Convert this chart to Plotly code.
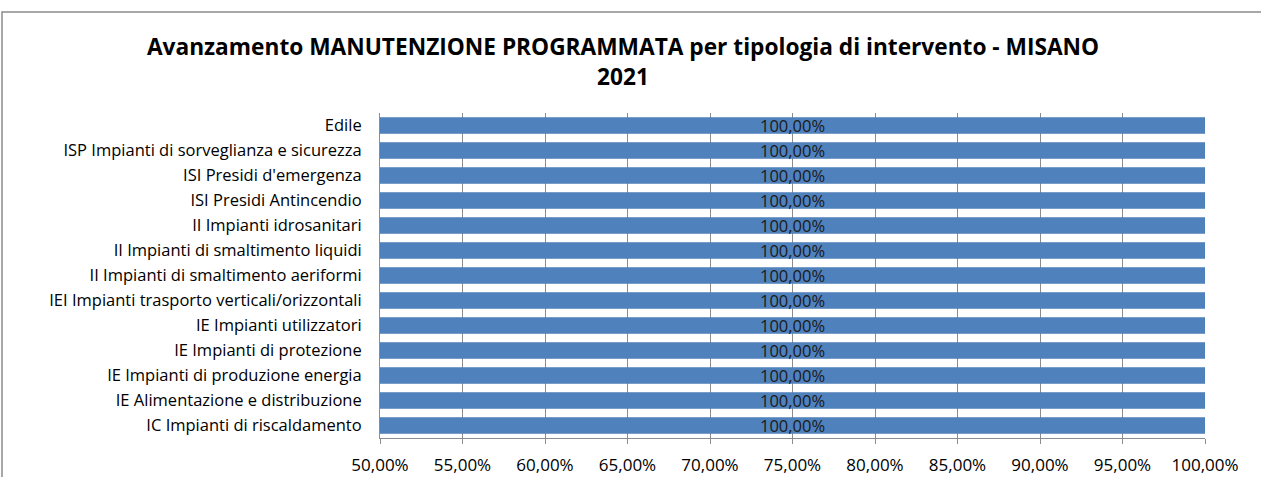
import plotly.graph_objects as go

categories = [
    "Edile",
    "ISP Impianti di sorveglianza e sicurezza",
    "ISI Presidi d'emergenza",
    "ISI Presidi Antincendio",
    "II Impianti idrosanitari",
    "II Impianti di smaltimento liquidi",
    "II Impianti di smaltimento aeriformi",
    "IEI Impianti trasporto verticali/orizzontali",
    "IE Impianti utilizzatori",
    "IE Impianti di protezione",
    "IE Impianti di produzione energia",
    "IE Alimentazione e distribuzione",
    "IC Impianti di riscaldamento",
]
values = [1.0] * 13
axis_min = 0.5
tick_vals = [0.5, 0.55, 0.6, 0.65, 0.7, 0.75, 0.8, 0.85, 0.9, 0.95, 1.0]
tick_text = [f"{v*100:.2f}%".replace(".", ",") for v in tick_vals]
bar_text = [f"{v*100:.2f}%".replace(".", ",") for v in values]

FONT = "Open Sans"
W, H = 1261, 477
L, R, T, B = 380, 56, 113, 39

fig = go.Figure()
fig.add_trace(go.Bar(
    y=categories,
    x=[v - axis_min for v in values],
    base=axis_min,
    orientation="h",
    marker=dict(color="#4F81BD", line=dict(color="#4A7AB3", width=0.5)),
    width=0.64,
    text=bar_text,
    textposition="inside",
    insidetextanchor="middle",
    constraintext="none",
    textfont=dict(family=FONT, size=16.5, color="#1a1a1a"),
    hovertemplate="%{y}: %{text}<extra></extra>",
))

pw = W - L - R
ph = H - T - B
fig.add_shape(type="rect", xref="paper", yref="paper",
              x0=(2 - L) / pw, x1=(W + 10 - L) / pw,
              y0=-(B + 10) / ph, y1=(H - B - 12) / ph,
              line=dict(color="#8C8C8C", width=1.5), layer="below")

fig.update_layout(
    width=W, height=H,
    margin=dict(l=L, r=R, t=T, b=B, autoexpand=False),
    paper_bgcolor="white", plot_bgcolor="white",
    showlegend=False,
    title=dict(
        text="<b>Avanzamento MANUTENZIONE PROGRAMMATA per tipologia di intervento - MISANO<br>2021</b>",
        x=623 / W, xanchor="center", y=1 - 55 / H, yanchor="top",
        font=dict(family=FONT, size=22.7, color="#000000"),
    ),
    font=dict(family=FONT, size=16.5, color="#000000"),
    xaxis=dict(
        range=[axis_min, 1.0], tickvals=tick_vals, ticktext=tick_text,
        showgrid=True, gridcolor="#8C8C8C", gridwidth=1,
        showline=True, linecolor="#8C8C8C", linewidth=1,
        ticks="outside", ticklen=5, tickcolor="#8C8C8C",
        tickfont=dict(family=FONT, size=17), ticklabelstandoff=7,
        zeroline=False, fixedrange=True, automargin=False,
    ),
    yaxis=dict(
        autorange="reversed", showline=True, linecolor="#8C8C8C", linewidth=1,
        ticks="", tickfont=dict(family=FONT, size=16.5), ticklabelstandoff=14,
        fixedrange=True, automargin=False,
    ),
)

fig.write_html("out.html", config={"displayModeBar": False},
               post_script="document.body.style.margin='0';")
